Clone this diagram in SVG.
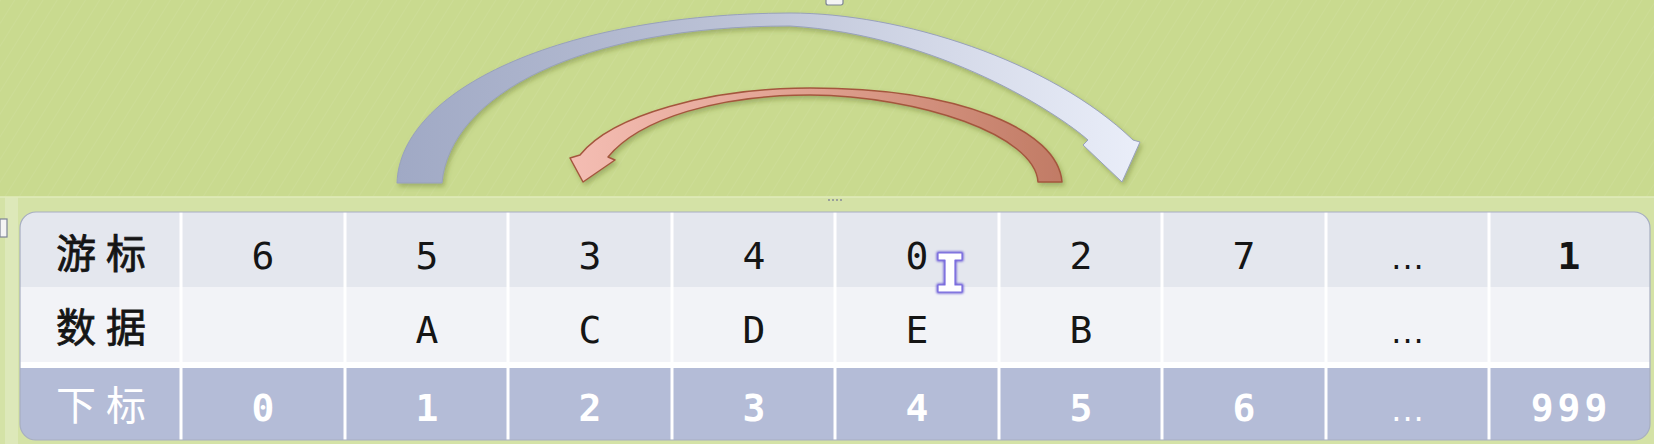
<svg xmlns="http://www.w3.org/2000/svg" width="1654" height="444" viewBox="0 0 1654 444">
<style>
.cn{font-family:"Noto Sans CJK SC","Noto Sans",sans-serif;font-size:40px;letter-spacing:10px;text-anchor:middle}
.v{font-family:"DejaVu Sans Mono","Liberation Mono",monospace;font-size:38px;text-anchor:middle;fill:#151515}
.w{font-family:"DejaVu Sans Mono","Liberation Mono",monospace;font-size:38px;font-weight:bold;text-anchor:middle;fill:#ffffff;letter-spacing:4px}
.dots{font-family:"DejaVu Sans","Liberation Sans",sans-serif;font-size:32px;text-anchor:middle;letter-spacing:1px}
.sep{stroke:#ffffff;stroke-width:3}
</style>
<defs>
  <pattern id="streak" width="12" height="12" patternUnits="userSpaceOnUse" patternTransform="rotate(32)">
    <line x1="0" y1="0" x2="0" y2="12" stroke="#ffffff" stroke-opacity="0.10" stroke-width="1.2"/>
  </pattern>
  <linearGradient id="bigGrad" x1="0" y1="0" x2="1" y2="0">
    <stop offset="0" stop-color="#a0a9c5"/>
    <stop offset="0.45" stop-color="#bcc2d6"/>
    <stop offset="1" stop-color="#eaeef9"/>
  </linearGradient>
  <linearGradient id="redGrad" x1="0" y1="0" x2="1" y2="0">
    <stop offset="0" stop-color="#f4bdb3"/>
    <stop offset="0.5" stop-color="#dfa08f"/>
    <stop offset="1" stop-color="#c17b65"/>
  </linearGradient>
  <filter id="shadow" x="-10%" y="-10%" width="120%" height="130%">
    <feDropShadow dx="2" dy="3" stdDeviation="2.5" flood-color="#4d5e22" flood-opacity="0.35"/>
  </filter>
  <filter id="glow" x="-50%" y="-50%" width="200%" height="200%">
    <feGaussianBlur stdDeviation="1.2"/>
  </filter>
  <clipPath id="tableClip">
    <rect x="20" y="212" width="1630" height="228" rx="16" ry="16"/>
  </clipPath>
</defs>

<!-- background -->
<rect x="0" y="0" width="1654" height="444" fill="#c9da8f"/>
<rect x="0" y="0" width="1654" height="444" fill="url(#streak)"/>
<rect x="0" y="197" width="1654" height="247" fill="#d4e2a6"/>
<rect x="5" y="197" width="13" height="247" fill="#dde8b9"/>
<line x1="0" y1="197" x2="1654" y2="197" stroke="#e0ebbb" stroke-width="1.5"/>

<!-- connectors (curved arrows) -->
<g id="connectors">
  <path id="arrow-big" filter="url(#shadow)" fill="url(#bigGrad)" stroke="#98a1bb" stroke-width="1"
    d="M397,183 C400,90 560,14 790,13 C900,13 1050,60 1133,140 L1140,142 L1122,182 L1083,145 L1088,140 C1060,115 940,35 790,26 C580,26 450,95 442,183 Z"/>
  <path id="arrow-red" filter="url(#shadow)" fill="url(#redGrad)" stroke="#a4573e" stroke-width="1.5" stroke-linejoin="round"
    d="M1062,182 C1058,130 960,88 810,88 C710,88 612,115 580,155 L570,158 L583,182 L615,160 L608,157 C640,118 720,95 810,95 C920,96 1035,135 1038,182 Z"/>
</g>

<!-- table -->
<g id="table">
  <g clip-path="url(#tableClip)">
    <rect x="20" y="212" width="1630" height="75" fill="#e4e7ee"/>
    <rect x="20" y="287" width="1630" height="75" fill="#f2f3f7"/>
    <rect x="20" y="362" width="1630" height="6" fill="#ffffff"/>
    <rect x="20" y="368" width="1630" height="72" fill="#b4bcd7"/>
    <g class="sep">
      <line x1="181" y1="212" x2="181" y2="440"/>
      <line x1="345" y1="212" x2="345" y2="440"/>
      <line x1="508" y1="212" x2="508" y2="440"/>
      <line x1="672" y1="212" x2="672" y2="440"/>
      <line x1="835" y1="212" x2="835" y2="440"/>
      <line x1="999" y1="212" x2="999" y2="440"/>
      <line x1="1162" y1="212" x2="1162" y2="440"/>
      <line x1="1326" y1="212" x2="1326" y2="440"/>
      <line x1="1489" y1="212" x2="1489" y2="440"/>
    </g>
  </g>
  <rect x="20" y="212" width="1630" height="228" rx="16" ry="16" fill="none" stroke="#a7aec1" stroke-width="1.2"/>
</g>

<!-- row: cursor (游标) -->
<g id="row-cursor">
  <text class="cn" x="106" y="268" fill="#151515" stroke="#151515" stroke-width="0.8">游标</text>
  <text class="v" x="263" y="269">6</text>
  <text class="v" x="427" y="269">5</text>
  <text class="v" x="590" y="269">3</text>
  <text class="v" x="754" y="269">4</text>
  <text class="v" x="917" y="269">0</text>
  <text class="v" x="1081" y="269">2</text>
  <text class="v" x="1244" y="269">7</text>
  <text class="dots" x="1408" y="269" fill="#151515">...</text>
  <text class="v" x="1569" y="269" font-weight="bold">1</text>
</g>

<!-- row: data (数据) -->
<g id="row-data">
  <text class="cn" x="106" y="342" fill="#151515" stroke="#151515" stroke-width="0.8">数据</text>
  <text class="v" x="427" y="343">A</text>
  <text class="v" x="590" y="343">C</text>
  <text class="v" x="754" y="343">D</text>
  <text class="v" x="917" y="343">E</text>
  <text class="v" x="1081" y="343">B</text>
  <text class="dots" x="1408" y="343" fill="#151515">...</text>
</g>

<!-- row: index (下标) -->
<g id="row-index">
  <text class="cn" x="106" y="420" fill="#ffffff">下标</text>
  <text class="w" x="265" y="421">0</text>
  <text class="w" x="429" y="421">1</text>
  <text class="w" x="592" y="421">2</text>
  <text class="w" x="756" y="421">3</text>
  <text class="w" x="919" y="421">4</text>
  <text class="w" x="1083" y="421">5</text>
  <text class="w" x="1246" y="421">6</text>
  <text class="dots" x="1408" y="421" fill="#ffffff">...</text>
  <text class="w" x="1571" y="421">999</text>
</g>

<!-- mouse I-beam cursor -->
<g id="ibeam">
  <path d="M938,253 H962 V260 H955 V285 H962 V292 H938 V285 H945 V260 H938 Z" fill="none" stroke="#6b5bd6" stroke-width="3" stroke-linejoin="round" filter="url(#glow)"/>
  <path d="M938,253 H962 V260 H955 V285 H962 V292 H938 V285 H945 V260 H938 Z" fill="#ffffff" stroke="#7a6ce0" stroke-width="1.2" stroke-linejoin="round"/>
</g>

<!-- selection handles -->
<g id="handles">
  <rect x="826" y="-4" width="17" height="9" rx="2" fill="#f4f4f4" stroke="#7d8494" stroke-width="1.2"/>
  <rect x="0" y="219" width="7" height="18" fill="#f4f4f4" stroke="#7d8494" stroke-width="1.2"/>
  <g fill="#9aa19a">
    <rect x="828" y="199" width="2" height="2"/>
    <rect x="832" y="199" width="2" height="2"/>
    <rect x="836" y="199" width="2" height="2"/>
    <rect x="840" y="199" width="2" height="2"/>
  </g>
</g>
</svg>
